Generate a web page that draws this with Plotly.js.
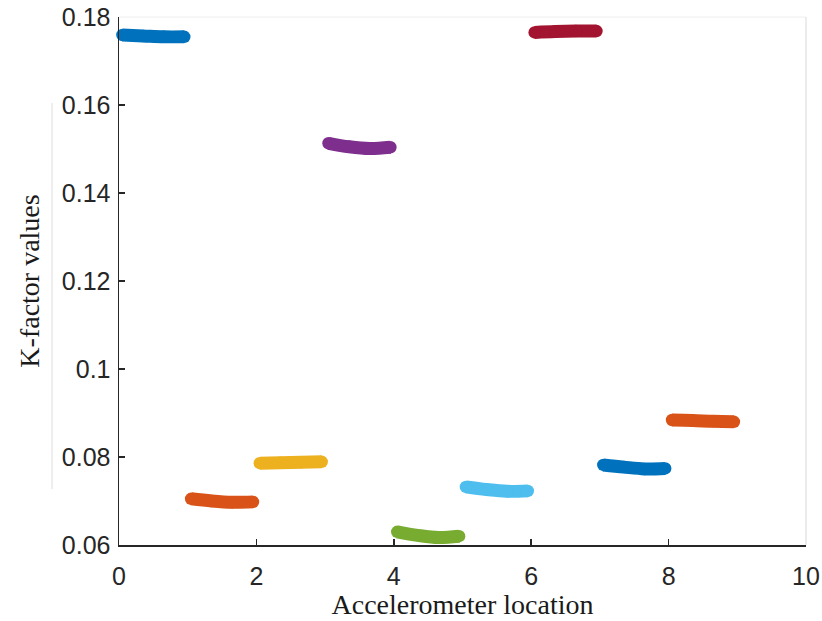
<!DOCTYPE html>
<html>
<head>
<meta charset="utf-8">
<script src="https://cdn.plot.ly/plotly-3.0.1.min.js"></script>
<style>html,body{margin:0;padding:0;background:#fff;}#chart{width:822px;height:621px;}</style>
</head>
<body>
<div id="chart"></div>
<script>
// Accelerometer locations (segment starts) and sample positions within each segment
const locations = [0, 1, 2, 3, 4, 5, 6, 7, 8];
const samplePos = [0.05, 0.35, 0.65, 0.95];

// K-factor values read along each segment
const kLoc1 = [0.1759, 0.1757, 0.1755, 0.1755];
const kLoc2 = [0.0705, 0.0700, 0.0697, 0.0698];
const kLoc3 = [0.0786, 0.0787, 0.0788, 0.0789];
const kLoc4 = [0.1513, 0.1505, 0.1501, 0.1504];
const kLoc5 = [0.0630, 0.0622, 0.0617, 0.0620];
const kLoc6 = [0.0732, 0.0726, 0.0722, 0.0723];
const kLoc7 = [0.1765, 0.1767, 0.1768, 0.1768];
const kLoc8 = [0.0782, 0.0777, 0.0773, 0.0774];
const kLoc9 = [0.0884, 0.0883, 0.0881, 0.0880];

const series = [kLoc1, kLoc2, kLoc3, kLoc4, kLoc5, kLoc6, kLoc7, kLoc8, kLoc9];
const colors = ['#0072BD', '#D95319', '#EDB120', '#7E2F8E', '#77AC30', '#4DBEEE', '#A2142F', '#0072BD', '#D95319'];

const xTicks = [0, 2, 4, 6, 8, 10];
const yTicks = [0.06, 0.08, 0.1, 0.12, 0.14, 0.16, 0.18];
const yTickText = ['0.06', '0.08', '0.1', '0.12', '0.14', '0.16', '0.18'];

const traces = series.map((vals, i) => ({
  type: 'scatter',
  mode: 'lines+markers',
  x: samplePos.map(p => locations[i] + p),
  y: vals,
  line: {color: colors[i], width: 13, shape: 'spline'},
  marker: {color: colors[i], size: 12.5, line: {width: 0}},
  hoverinfo: 'skip',
  showlegend: false,
  cliponaxis: false
}));

const serif = 'Liberation Serif, Times New Roman, serif';
const layout = {
  width: 822, height: 621,
  margin: {l: 119, r: 16, t: 17, b: 76},
  paper_bgcolor: '#ffffff', plot_bgcolor: '#ffffff',
  font: {family: 'Liberation Sans, Arial, sans-serif', color: '#262626'},
  showlegend: false,
  xaxis: {
    range: [0, 10], tickvals: xTicks, ticktext: xTicks.map(String),
    ticks: 'inside', ticklen: 6, tickwidth: 1.5, tickcolor: '#262626',
    showline: true, linecolor: '#262626', linewidth: 1.5,
    showgrid: false, zeroline: false,
    ticklabelstandoff: 8,
    tickfont: {size: 25, color: '#262626'},
    title: {text: 'Accelerometer location', font: {family: serif, size: 28, color: '#1a1a1a'}, standoff: 4}
  },
  yaxis: {
    range: [0.06, 0.18], tickvals: yTicks, ticktext: yTickText,
    ticks: 'inside', ticklen: 6, tickwidth: 1.5, tickcolor: '#262626',
    showline: true, linecolor: '#262626', linewidth: 1.5,
    showgrid: false, zeroline: false,
    ticklabelstandoff: 2,
    tickfont: {size: 25, color: '#262626'},
    title: {text: 'K-factor values', font: {family: serif, size: 28, color: '#1a1a1a'}, standoff: 14}
  },
  shapes: [
    {type: 'line', xref: 'paper', yref: 'paper', x0: 0, x1: 1, y0: 1, y1: 1, line: {color: '#eeeeee', width: 1}, layer: 'below'},
    {type: 'line', xref: 'paper', yref: 'paper', x0: 1, x1: 1, y0: 0, y1: 1, line: {color: '#e6e6e6', width: 1.5}, layer: 'below'},
    {type: 'line', xref: 'paper', yref: 'paper', x0: -0.0975, x1: -0.0975, y0: 0.106, y1: 0.837, line: {color: '#dddddd', width: 1}, layer: 'below'}
  ]
};

Plotly.newPlot('chart', traces, layout, {displayModeBar: false, staticPlot: true});
</script>
</body>
</html>
